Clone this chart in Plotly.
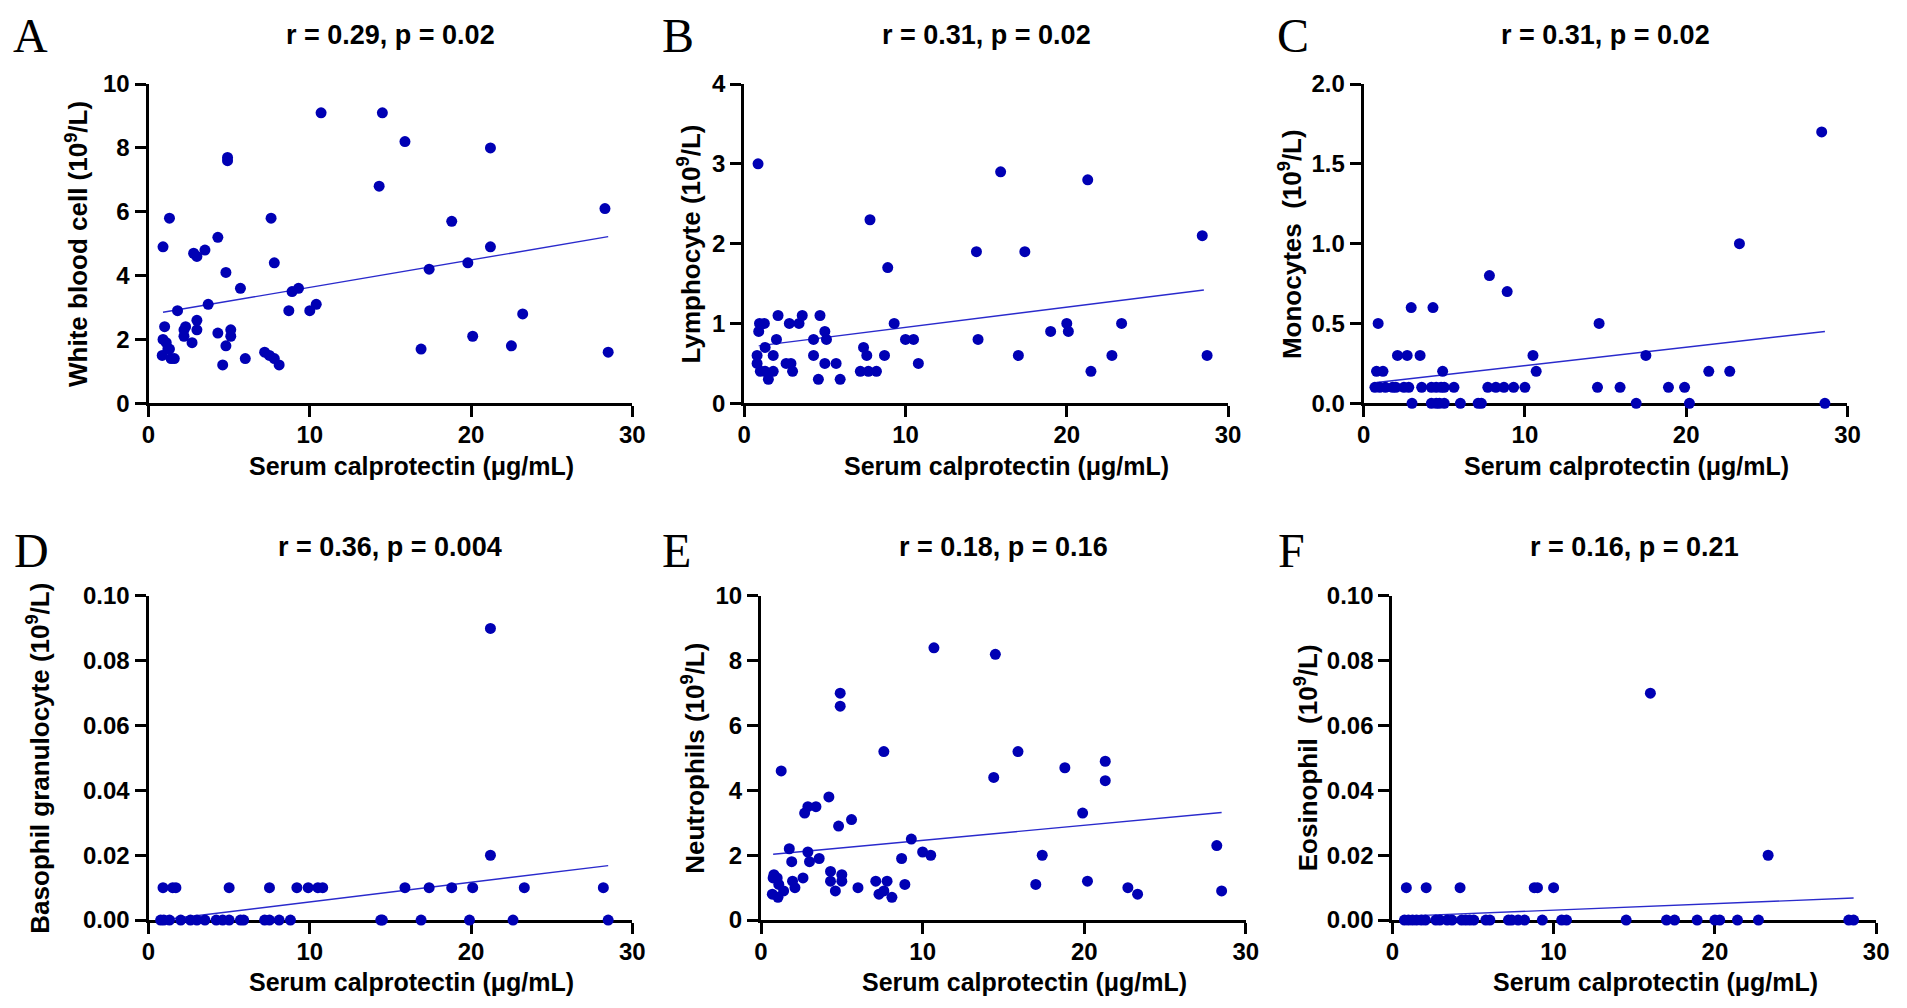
import plotly.graph_objects as go

W, H = 1907, 1008

# ---- data (serum calprotectin, ug/mL vs blood counts) ----
wbc_x = [10.7, 14.5, 15.9, 21.2, 14.3, 18.8, 21.2, 19.8, 17.4, 16.9, 20.1, 22.5, 23.2, 28.3, 28.5,
         0.9, 1.3, 2.8, 3.0, 3.5, 4.3, 4.9, 4.9, 4.8, 5.7, 7.6, 7.8, 8.9, 9.3, 8.7, 10.0, 10.4, 3.7,
         1.8, 1.0, 3.0, 3.0, 2.3, 2.2, 2.2, 2.7, 4.3, 5.1, 5.1, 4.8, 4.6, 6.0, 7.2, 7.5, 7.8, 8.1,
         0.9, 1.1, 1.2, 0.85, 1.4, 1.6, 1.3]
wbc_y = [9.1, 9.1, 8.2, 8.0, 6.8, 5.7, 4.9, 4.4, 4.2, 1.7, 2.1, 1.8, 2.8, 6.1, 1.6,
         4.9, 5.8, 4.7, 4.6, 4.8, 5.2, 7.7, 7.6, 4.1, 3.6, 5.8, 4.4, 3.5, 3.6, 2.9, 2.9, 3.1, 3.1,
         2.9, 2.4, 2.6, 2.3, 2.4, 2.3, 2.1, 1.9, 2.2, 2.3, 2.1, 1.8, 1.2, 1.4, 1.6, 1.5, 1.4, 1.2,
         2.0, 1.9, 1.7, 1.5, 1.4, 1.4, 1.7]

lym_x = [0.86, 7.8, 8.9, 14.4, 17.4, 15.9, 9.3, 14.5, 17.0, 19.0, 20.0, 20.1, 21.3, 21.5, 22.8, 23.4,
         28.4, 28.7, 0.9, 0.95, 1.25, 2.1, 2.8, 3.4, 3.6, 4.7, 5.0, 5.1, 4.3, 2.0, 1.3, 0.8, 1.8, 4.3,
         0.8, 1.0, 1.3, 1.8, 1.5, 2.6, 2.9, 3.0, 4.6, 5.0, 5.7, 5.95, 7.4, 7.6, 8.7, 7.2, 7.7, 8.2,
         10.0, 10.5, 10.8]
lym_y = [3.0, 2.3, 1.7, 1.9, 1.9, 2.9, 1.0, 0.8, 0.6, 0.9, 1.0, 0.9, 2.8, 0.4, 0.6, 1.0,
         2.1, 0.6, 0.9, 1.0, 1.0, 1.1, 1.0, 1.0, 1.1, 1.1, 0.9, 0.8, 0.8, 0.8, 0.7, 0.6, 0.6, 0.6,
         0.5, 0.4, 0.4, 0.4, 0.3, 0.5, 0.5, 0.4, 0.3, 0.5, 0.5, 0.3, 0.7, 0.6, 0.6, 0.4, 0.4, 0.4,
         0.8, 0.8, 0.5]

mono_x = [2.1, 2.7, 3.5, 10.5, 17.5,
          0.8, 1.2, 4.9, 10.7, 21.4, 22.7,
          0.7, 1.0, 1.35, 1.8, 2.0, 2.5, 2.8, 3.6, 4.2, 4.5, 4.8, 5.0, 5.6, 7.7, 8.2, 8.7, 9.3, 10.0,
          14.5, 15.9, 18.9, 19.9,
          3.0, 4.2, 4.5, 4.7, 5.0, 6.0, 7.1, 7.3, 16.9, 20.2, 28.6,
          0.9, 2.95, 4.3, 7.8, 8.9, 23.3, 28.4, 14.6]
mono_y = [0.3, 0.3, 0.3, 0.3, 0.3,
          0.2, 0.2, 0.2, 0.2, 0.2, 0.2,
          0.1, 0.1, 0.1, 0.1, 0.1, 0.1, 0.1, 0.1, 0.1, 0.1, 0.1, 0.1, 0.1, 0.1, 0.1, 0.1, 0.1, 0.1,
          0.1, 0.1, 0.1, 0.1,
          0.0, 0.0, 0.0, 0.0, 0.0, 0.0, 0.0, 0.0, 0.0, 0.0, 0.0,
          0.5, 0.6, 0.6, 0.8, 0.7, 1.0, 1.7, 0.5]

baso_x = [0.9, 1.5, 1.7, 5.0, 7.5, 9.2, 9.9, 10.5, 10.8, 15.9, 17.4, 18.8, 20.1, 23.3, 28.2,
          21.2, 21.2,
          0.75, 0.95, 1.3, 2.0, 2.6, 3.0, 3.5, 4.2, 4.6, 5.0, 5.7, 5.9, 7.2, 7.5, 8.1, 8.8,
          14.4, 14.5, 16.9, 19.9, 22.6, 28.5]
baso_y = [0.01] * 15 + [0.02, 0.09] + [0.0] * 22

neut_x = [10.7, 14.5, 4.9, 4.9, 7.6, 15.9, 1.25, 14.4, 18.8, 21.3, 21.3, 4.2, 2.9, 3.4, 2.7, 4.8,
          5.6, 19.9, 9.3, 1.75, 2.9, 1.9, 3.0, 3.6, 8.7, 10.0, 10.5, 17.4, 28.2, 0.8, 1.0, 0.75,
          1.1, 1.95, 2.1, 2.6, 4.3, 4.3, 5.0, 5.0, 4.6, 6.0, 7.1, 7.8, 7.3, 7.6, 8.1, 8.9, 0.7,
          1.05, 1.4, 17.0, 20.2, 22.7, 23.3, 28.5]
neut_y = [8.4, 8.2, 7.0, 6.6, 5.2, 5.2, 4.6, 4.4, 4.7, 4.9, 4.3, 3.8, 3.5, 3.5, 3.3, 2.9,
          3.1, 3.3, 2.5, 2.2, 2.1, 1.8, 1.8, 1.9, 1.9, 2.1, 2.0, 2.0, 2.3, 1.4, 1.3, 1.3,
          1.1, 1.2, 1.0, 1.3, 1.5, 1.2, 1.4, 1.2, 0.9, 1.0, 1.2, 1.2, 0.8, 0.9, 0.7, 1.1, 0.8,
          0.7, 0.9, 1.1, 1.2, 1.0, 0.8, 0.9]

eos_x = [0.87, 2.1, 4.2, 8.8, 9.0, 10.0, 23.3, 16.0,
         0.75, 1.0, 1.25, 1.5, 1.8, 2.05, 2.7, 2.95, 3.4, 3.7, 4.3, 4.55, 4.8, 5.05, 5.8, 6.05,
         7.2, 7.4, 7.8, 8.2, 9.3, 10.5, 10.8, 14.5, 17.0, 17.5, 18.9, 20.0, 20.3, 21.4, 22.7,
         28.3, 28.6]
eos_y = [0.01] * 6 + [0.02, 0.07] + [0.0] * 33

# regression line end points
fit_x = [[0.9, 28.5], [0.9, 28.5], [0.8, 28.6], [0.8, 28.5], [0.75, 28.5], [0.8, 28.6]]
fit_y = [[2.85, 5.22], [0.72, 1.42], [0.13, 0.45], [0.0, 0.0168], [2.03, 3.32], [0.0012, 0.0068]]

panel_letters = ["A", "B", "C", "D", "E", "F"]
titles = ["r = 0.29, p = 0.02", "r = 0.31, p = 0.02", "r = 0.31, p = 0.02",
          "r = 0.36, p = 0.004", "r = 0.18, p = 0.16", "r = 0.16, p = 0.21"]
y_titles = ["White blood cell (10<sup>9</sup>/L)", "Lymphocyte (10<sup>9</sup>/L)",
            "Monocytes\u00a0 (10<sup>9</sup>/L)", "Basophil granulocyte (10<sup>9</sup>/L)",
            "Neutrophils (10<sup>9</sup>/L)", "Eosinophil\u00a0 (10<sup>9</sup>/L)"]
x_title = "Serum calprotectin (μg/mL)"
y_ranges = [[0, 10], [0, 4], [0, 2], [0, 0.1], [0, 10], [0, 0.1]]
y_dticks = [2, 1, 0.5, 0.02, 2, 0.02]
y_formats = ["d", "d", ".1f", ".2f", "d", ".2f"]

xs = [wbc_x, lym_x, mono_x, baso_x, neut_x, eos_x]
ys = [wbc_y, lym_y, mono_y, baso_y, neut_y, eos_y]

# plot boxes in page pixels (left, right, top, bottom)
boxes = [(143, 632, 72, 400), (745, 1234, 72, 400), (1371, 1860, 72, 400),
         (143, 632, 598, 931), (762, 1252, 598, 931), (1400, 1889, 598, 931)]
letter_pos = [(24, 22), (678, 22), (1300, 22), (25, 551), (677, 551), (1298, 551)]
ytitle_x = [71, 690, 1297, 31, 693, 1313]

dot_color = "#0000b4"
line_color = "#2a2acc"
bold_font = "Liberation Sans, Arial, sans-serif"


def px(v):
    return v / W


def py(v):
    return 1 - v / H


fig = go.Figure()
annotations = []

for i in range(6):
    l, r, t, b = boxes[i]
    n = "" if i == 0 else str(i + 1)
    xa, ya = "x" + n, "y" + n
    fig.add_trace(go.Scatter(x=fit_x[i], y=fit_y[i], mode="lines", xaxis=xa, yaxis=ya,
                             line=dict(color=line_color, width=1.4), cliponaxis=False,
                             showlegend=False, hoverinfo="skip"))
    fig.add_trace(go.Scatter(x=xs[i], y=ys[i], mode="markers", xaxis=xa, yaxis=ya,
                             marker=dict(color=dot_color, size=11, line=dict(width=0)),
                             cliponaxis=False, showlegend=False))

    axis_common = dict(showline=True, linecolor="black", linewidth=3, ticks="outside",
                       ticklen=11, tickwidth=3, tickcolor="black", showgrid=False,
                       zeroline=False, layer="below traces",
                       tickfont=dict(family=bold_font, size=24, color="black", weight="bold"))
    fig.update_layout({
        "xaxis" + n: dict(domain=[px(l), px(r)], anchor=ya, range=[0, 30], dtick=10,
                          ticklabelstandoff=-3, **axis_common),
        "yaxis" + n: dict(domain=[py(b), py(t)], anchor=xa, range=y_ranges[i],
                          dtick=y_dticks[i], tickformat=y_formats[i], **axis_common),
    })

    cx = (l + r) / 2
    annotations.append(dict(text=titles[i], x=px(cx), y=py(t - 50), xref="paper", yref="paper",
                            showarrow=False, xanchor="center", yanchor="middle",
                            font=dict(family=bold_font, size=27, color="black", weight="bold")))
    lx, ly = letter_pos[i]
    annotations.append(dict(text=panel_letters[i], x=px(lx), y=py(ly), xref="paper", yref="paper",
                            showarrow=False, xanchor="center", yanchor="middle",
                            font=dict(family="Liberation Serif, Times New Roman, serif", size=48,
                                      color="black")))
    annotations.append(dict(text=y_titles[i], x=px(ytitle_x[i]), y=py((t + b) / 2),
                            xref="paper", yref="paper", showarrow=False, textangle=-90,
                            xanchor="center", yanchor="middle",
                            font=dict(family=bold_font, size=26, color="black", weight="bold")))
    annotations.append(dict(text=x_title, x=px(cx + 21), y=py(b + 64), xref="paper",
                            yref="paper", showarrow=False, xanchor="center", yanchor="middle",
                            font=dict(family=bold_font, size=25, color="black", weight="bold")))

fig.update_layout(width=W, height=H, margin=dict(l=0, r=0, t=0, b=0),
                  paper_bgcolor="white", plot_bgcolor="white", annotations=annotations)

# drop the browser's default body margin so the figure sits at the page corner
fig.write_html("out.html", config={"displayModeBar": False},
               post_script="document.body.style.margin='0';")
